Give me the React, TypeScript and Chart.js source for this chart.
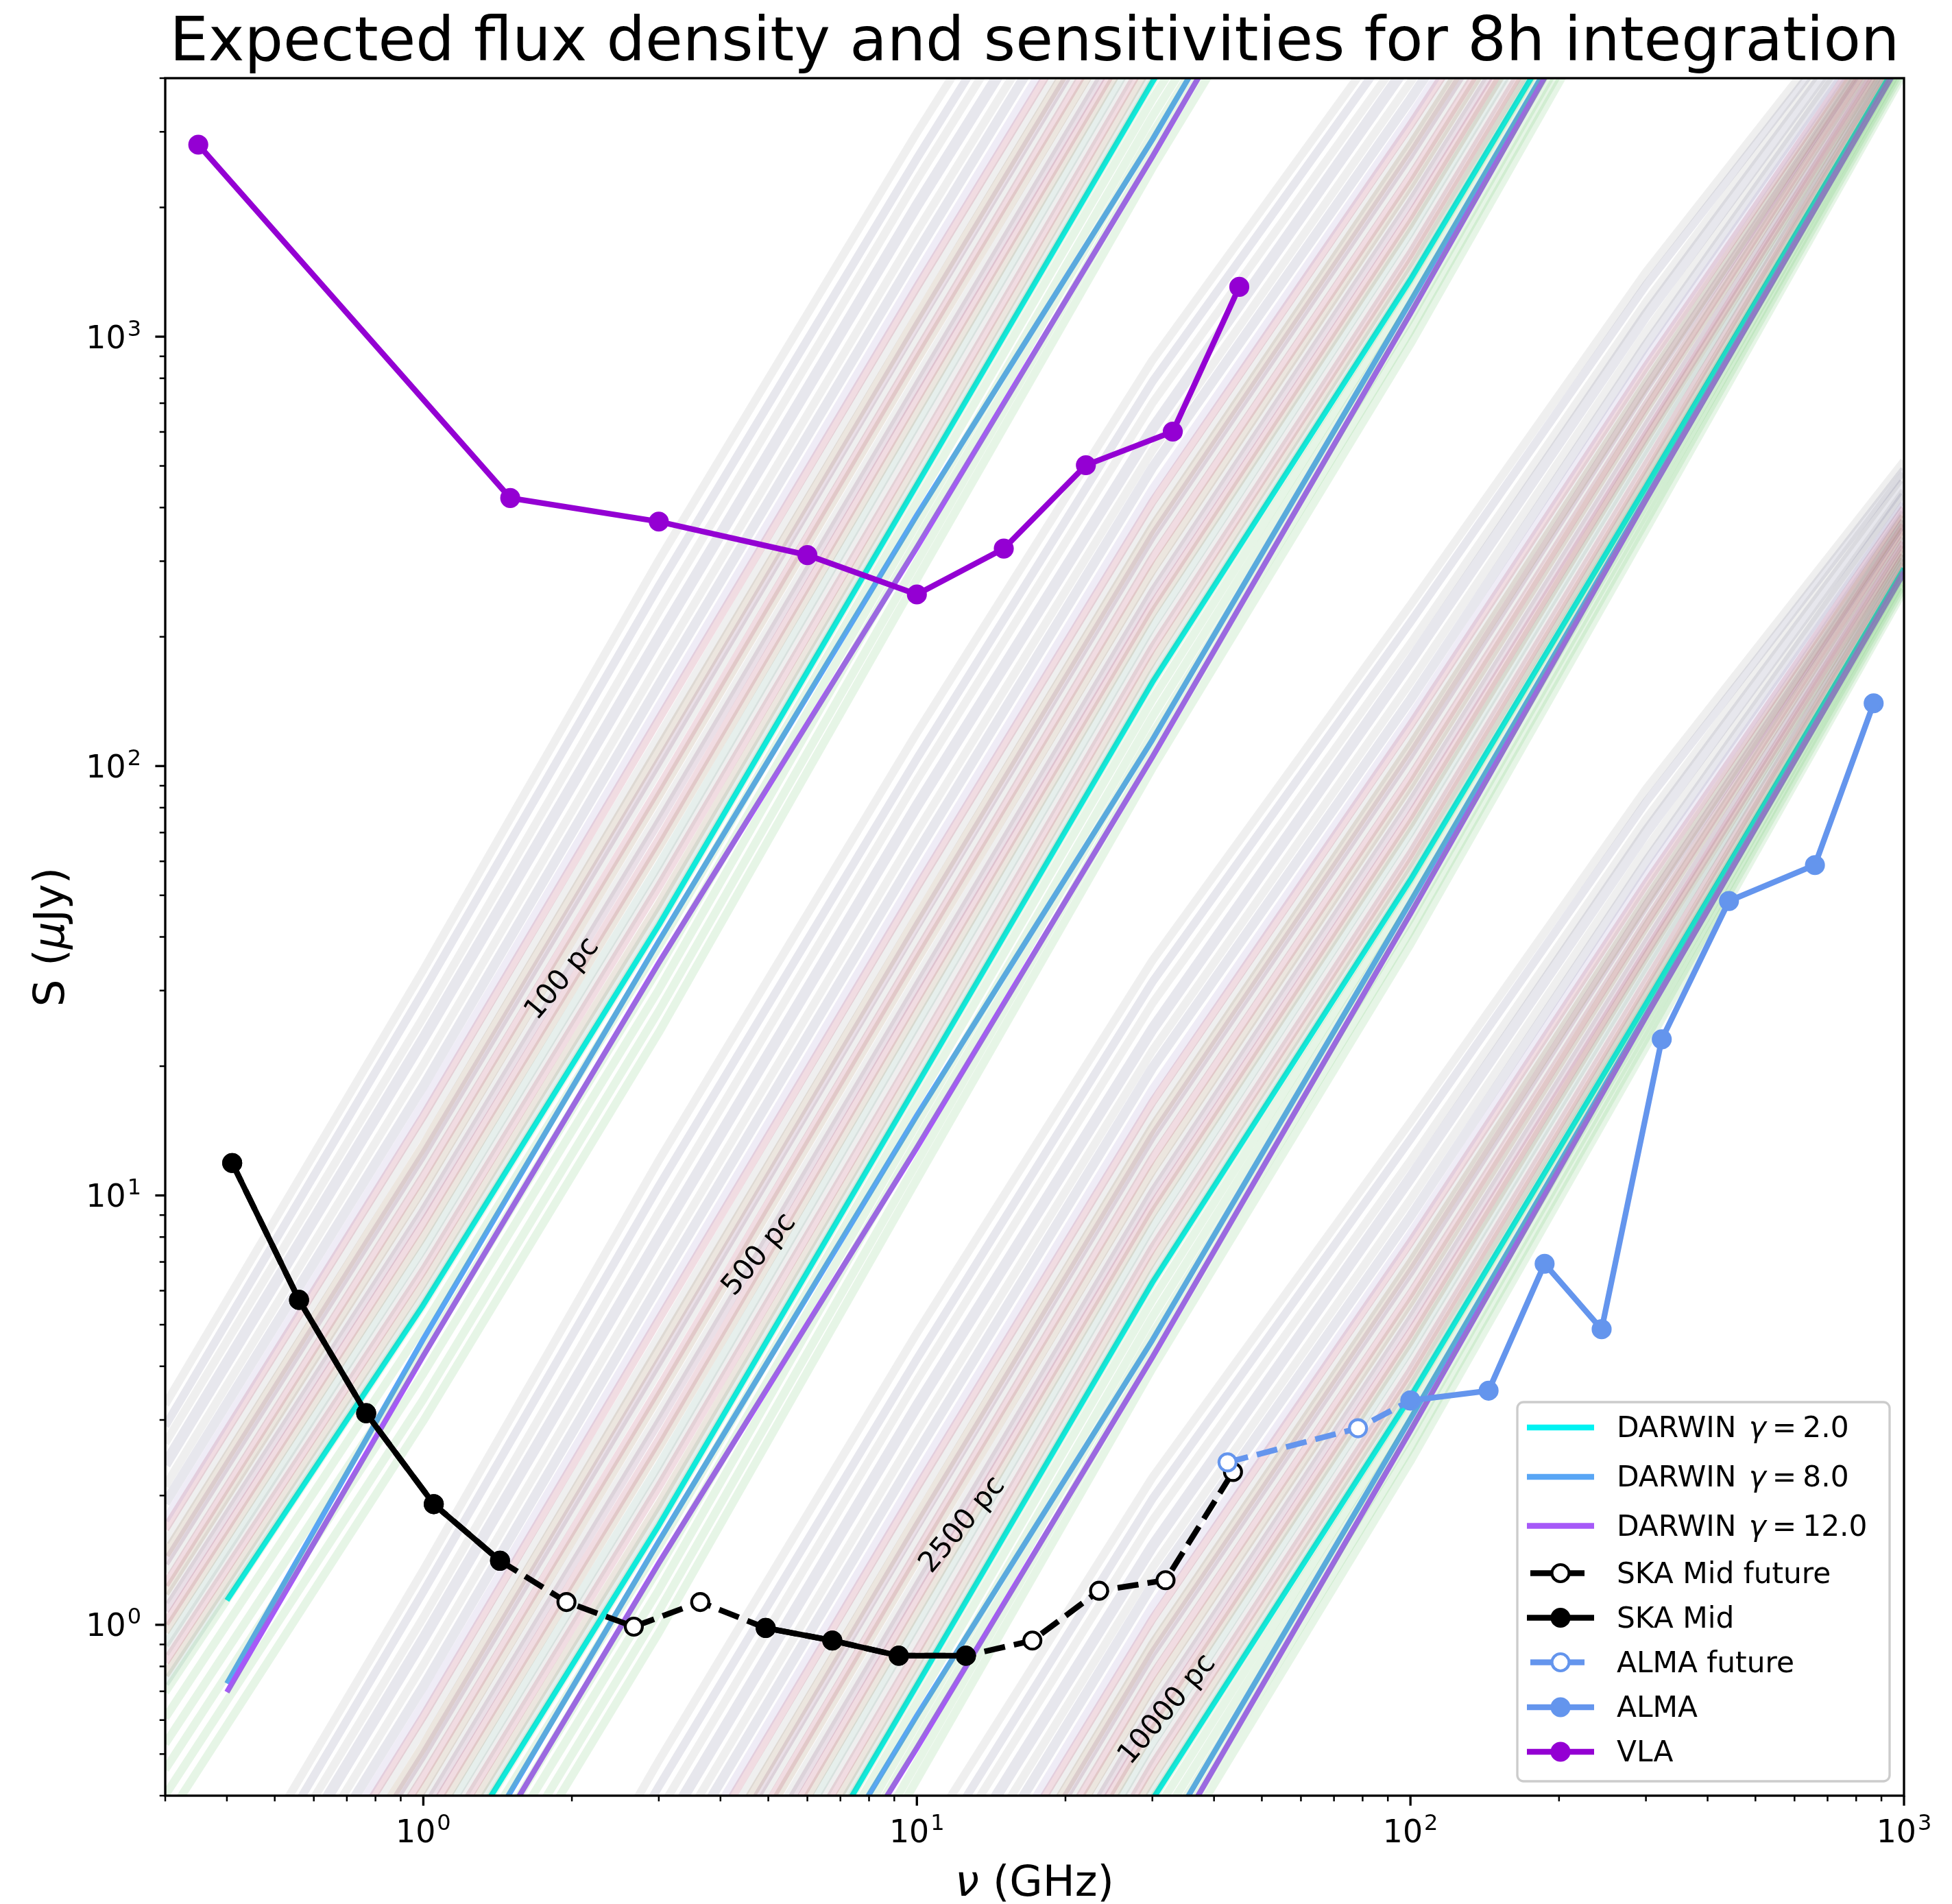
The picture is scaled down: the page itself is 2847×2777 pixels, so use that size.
import React, { useEffect, useRef } from 'react';
import { Chart, registerables } from 'chart.js';

Chart.register(...registerables);

const W = 2847;
const H = 2777;
const FONT = '"DejaVu Sans"';

// ---------- Instrument sensitivities (µJy, 8 h) ----------
const vlaFreq = [0.35, 1.5, 3.0, 6.0, 10, 15, 22, 33, 45];
const vlaFlux = [2800, 421, 371, 310, 251, 321, 502, 601, 1306];

const skaFreq = [0.41, 0.56, 0.766, 1.05, 1.43, 1.95, 2.67, 3.64, 4.94, 6.74, 9.19, 12.57, 17.14, 23.4, 31.9, 43.7];
const skaFutureFlux = [11.9, 5.71, 3.11, 1.91, 1.41, 1.13, 0.99, 1.13, 0.983, 0.919, 0.847, 0.847, 0.919, 1.2, 1.27, 2.27];
const skaMidFlux = [11.9, 5.71, 3.11, 1.91, 1.41, null, null, null, 0.983, 0.919, 0.847, 0.847, null, null, null, null];

const almaFutureFreq = [42.6, 78.3, 100];
const almaFutureFlux = [2.39, 2.87, 3.33];
const almaFreq = [100, 144, 187, 244, 323, 442, 660, 868];
const almaFlux = [3.33, 3.51, 6.93, 4.88, 23.1, 48.5, 58.8, 140];

// ---------- DARWIN expected flux densities (µJy at 100 pc) ----------
const darwinFreq = [0.4, 1, 3, 10, 30, 100, 300, 1000];
const darwinG2At100pc = [1.14, 5.56, 42.6, 452, 3917, 33960, 279300, 2884000];
const darwinG8At100pc = [0.73, 4.63, 39.1, 384, 2877, 30200, 263000, 2850000];
const darwinG12At100pc = [0.697, 4.23, 34.8, 323, 2624, 28310, 260600, 2820000];

const distancesPc = [100, 500, 2500, 10000];
const distanceLabels = ['100 pc', '500 pc', '2500 pc', '10000 pc'];
const labelFreq = [1.914, 4.8, 12.39, 32.2];
const labelFlux = [31.9, 7.27, 1.707, 0.634];

// ---------- faint model ensemble (offsets in dex from the reference spectrum) ----------
const faintFreq = [0.3, 1, 3, 10, 30, 100, 300, 1000];
const faintRefAt100pc = [0.697, 5.56, 42.6, 452, 3917, 33960, 279300, 2884000];
const faintOffsetDex = [
  [0.67, 0.78, 0.85, 0.82, 0.75, 0.64, 0.5, 0.25],
  [0.62, 0.73, 0.79, 0.76, 0.7, 0.6, 0.47, 0.23],
  [0.58, 0.67, 0.73, 0.71, 0.65, 0.55, 0.43, 0.22],
  [0.53, 0.62, 0.67, 0.65, 0.59, 0.51, 0.4, 0.2],
  [0.48, 0.56, 0.61, 0.59, 0.54, 0.46, 0.36, 0.18],
  [0.44, 0.51, 0.56, 0.54, 0.5, 0.42, 0.33, 0.17],
  [0.4, 0.47, 0.51, 0.49, 0.45, 0.38, 0.3, 0.15],
  [0.38, 0.44, 0.48, 0.46, 0.42, 0.36, 0.28, 0.14],
  [0.35, 0.41, 0.44, 0.43, 0.39, 0.33, 0.26, 0.13],
  [0.32, 0.37, 0.41, 0.39, 0.36, 0.31, 0.24, 0.12],
  [0.3, 0.35, 0.38, 0.37, 0.34, 0.29, 0.23, 0.11],
  [0.28, 0.33, 0.36, 0.34, 0.32, 0.27, 0.21, 0.11],
  [0.25, 0.3, 0.32, 0.31, 0.29, 0.24, 0.19, 0.1],
  [0.23, 0.27, 0.3, 0.29, 0.26, 0.22, 0.18, 0.09],
  [0.21, 0.24, 0.26, 0.25, 0.23, 0.2, 0.16, 0.08],
  [0.19, 0.22, 0.24, 0.23, 0.21, 0.18, 0.14, 0.07],
  [0.16, 0.19, 0.2, 0.2, 0.18, 0.15, 0.12, 0.06],
  [0.14, 0.16, 0.18, 0.17, 0.16, 0.13, 0.11, 0.05],
  [0.11, 0.13, 0.14, 0.14, 0.13, 0.11, 0.09, 0.04],
  [0.09, 0.1, 0.11, 0.11, 0.1, 0.08, 0.07, 0.03],
  [0.07, 0.08, 0.09, 0.08, 0.08, 0.06, 0.05, 0.03],
  [0.04, 0.05, 0.05, 0.05, 0.05, 0.04, 0.03, 0.02],
  [0.02, 0.02, 0.03, 0.02, 0.02, 0.02, 0.02, 0.01],
  [0.0, 0.0, 0.0, 0.0, 0.0, 0.0, 0.0, 0.0],
  [-0.06, -0.05, -0.05, -0.04, -0.04, -0.03, -0.02, -0.01],
  [-0.12, -0.11, -0.1, -0.09, -0.08, -0.06, -0.04, -0.02],
  [-0.18, -0.16, -0.15, -0.13, -0.12, -0.09, -0.06, -0.03],
  [-0.24, -0.22, -0.2, -0.18, -0.16, -0.12, -0.08, -0.04],
  [-0.3, -0.27, -0.25, -0.22, -0.2, -0.15, -0.1, -0.05],
];
const faintColorKey = [
  'grey', 'lavgrey', 'grey', 'lavgrey', 'grey', 'lavgrey', 'lavender', 'pink', 'grey', 'tan',
  'mauve', 'grey', 'pink', 'tan', 'grey', 'mauve', 'pink', 'tan', 'teal', 'grey',
  'pink', 'tan', 'teal', 'green', 'green', 'green', 'green', 'green', 'green',
];
const faintWidth = [
  12, 12, 12, 16, 12, 14, 12, 12, 12, 14,
  12, 12, 12, 12, 12, 12, 12, 12, 12, 12,
  12, 12, 12, 12, 12, 12, 12, 12, 12,
];
const faintPalette: Record<string, string> = {
  lavgrey: 'rgba(110,110,150,0.17)',
  grey: 'rgba(130,130,130,0.13)',
  lavender: 'rgba(140,120,190,0.14)',
  pink: 'rgba(180,70,100,0.19)',
  mauve: 'rgba(140,80,120,0.18)',
  tan: 'rgba(150,115,80,0.18)',
  teal: 'rgba(90,150,130,0.15)',
  green: 'rgba(100,190,100,0.16)',
};

// ---------- axes ----------
const xMin = 0.3, xMax = 1000, yMin = 0.4, yMax = 4000;
const xMajorTicks = [1, 10, 100, 1000];
const xMajorExp = ['0', '1', '2', '3'];
const yMajorTicks = [1, 10, 100, 1000];
const yMajorExp = ['0', '1', '2', '3'];

const COL_G2 = '#00f2f2';
const COL_G8 = '#59a6f5';
const COL_G12 = '#a659f8';
const COL_VLA = '#9400d3';
const COL_ALMA = '#6495ed';

const LW = 8.33;
const MS = 12.5;
const MEW = 4.17;
const DASH = [30.8, 13.3];

function minorTicks(min: number, max: number): number[] {
  const out: number[] = [];
  for (let e = -1; e <= 3; e++) {
    for (let m = 2; m <= 9; m++) {
      const v = m * Math.pow(10, e);
      if (v >= min * 0.999 && v <= max * 1.001) out.push(v);
    }
  }
  return out;
}

function drawPow(ctx: CanvasRenderingContext2D, exp: string, x: number, y: number, align: 'center' | 'right') {
  ctx.font = `45.8px ${FONT}`;
  const wb = ctx.measureText('10').width;
  ctx.font = `32px ${FONT}`;
  const we = ctx.measureText(exp).width;
  const total = wb + 2 + we;
  const sx = align === 'center' ? x - total / 2 : x - total;
  ctx.textAlign = 'left';
  ctx.textBaseline = 'alphabetic';
  ctx.font = `45.8px ${FONT}`;
  ctx.fillText('10', sx, y);
  ctx.font = `32px ${FONT}`;
  ctx.fillText(exp, sx + wb + 2, y - 18);
}

const decorations = {
  id: 'decorations',
  afterDatasetsDraw(chart: any) {
    const ctx: CanvasRenderingContext2D = chart.ctx;
    const { left, right, top, bottom } = chart.chartArea;
    const xs = chart.scales.x;
    const ys = chart.scales.y;
    ctx.save();
    ctx.fillStyle = '#000';

    // distance labels
    ctx.font = `41.7px ${FONT}`;
    ctx.textAlign = 'center';
    ctx.textBaseline = 'middle';
    distanceLabels.forEach((t, i) => {
      const px = xs.getPixelForValue(labelFreq[i]);
      const py = ys.getPixelForValue(labelFlux[i]);
      ctx.save();
      ctx.translate(px, py);
      ctx.rotate((-50 * Math.PI) / 180);
      ctx.fillText(t, 0, 0);
      ctx.restore();
    });

    // legend
    const lx = 2213, ly = 2045, lw = 543, lh = 553;
    ctx.beginPath();
    (ctx as any).roundRect(lx, ly, lw, lh, 9);
    ctx.fillStyle = 'rgba(255,255,255,0.8)';
    ctx.fill();
    ctx.strokeStyle = '#cccccc';
    ctx.lineWidth = 3.33;
    ctx.stroke();
    const rows = [2082, 2154, 2225.5, 2294.5, 2359.5, 2424.5, 2490, 2555];
    const hx0 = 2227, hx1 = 2325, mx = 2276, tx = 2358;
    const entries = [
      { c: COL_G2, g: '2.0', kind: 'line' },
      { c: COL_G8, g: '8.0', kind: 'line' },
      { c: COL_G12, g: '12.0', kind: 'line' },
      { c: '#000', t: 'SKA Mid future', kind: 'open' },
      { c: '#000', t: 'SKA Mid', kind: 'filled' },
      { c: COL_ALMA, t: 'ALMA future', kind: 'open' },
      { c: COL_ALMA, t: 'ALMA', kind: 'filled' },
      { c: COL_VLA, t: 'VLA', kind: 'filled' },
    ];
    const LF = 42.3;
    entries.forEach((e: any, i) => {
      const y = rows[i];
      ctx.lineCap = 'butt';
      ctx.strokeStyle = e.c;
      ctx.lineWidth = LW;
      ctx.beginPath();
      if (e.kind === 'open') {
        ctx.moveTo(2232, y);
        ctx.lineTo(2311, y);
      } else {
        ctx.moveTo(hx0, y);
        ctx.lineTo(hx1, y);
      }
      ctx.stroke();
      if (e.kind !== 'line') {
        ctx.beginPath();
        ctx.arc(mx, y, MS, 0, Math.PI * 2);
        ctx.fillStyle = e.kind === 'open' ? '#fff' : e.c;
        ctx.fill();
        ctx.lineWidth = MEW;
        ctx.strokeStyle = e.c;
        ctx.stroke();
      }
      ctx.fillStyle = '#000';
      ctx.textAlign = 'left';
      ctx.textBaseline = 'alphabetic';
      const by = y + 14;
      if (e.kind === 'line') {
        ctx.font = `${LF}px ${FONT}`;
        let x = tx;
        ctx.fillText('DARWIN', x, by);
        x += ctx.measureText('DARWIN ').width + 5;
        ctx.font = `italic ${LF}px ${FONT}`;
        ctx.fillText('γ', x, by);
        x += ctx.measureText('γ').width + 9;
        ctx.font = `${LF}px ${FONT}`;
        ctx.fillText('=', x, by);
        x += ctx.measureText('=').width + 9;
        ctx.fillText(e.g, x, by);
      } else {
        ctx.font = `${LF}px ${FONT}`;
        ctx.fillText(e.t, tx, by);
      }
    });

    // frame
    ctx.strokeStyle = '#000';
    ctx.lineWidth = 3.33;
    ctx.lineCap = 'square';
    ctx.strokeRect(left, top, right - left, bottom - top);
    ctx.lineCap = 'butt';

    // x ticks
    ctx.lineWidth = 3.33;
    xMajorTicks.forEach((v, i) => {
      const px = xs.getPixelForValue(v);
      ctx.beginPath();
      ctx.moveTo(px, bottom);
      ctx.lineTo(px, bottom + 14.6);
      ctx.stroke();
      drawPow(ctx, xMajorExp[i], px, 2687, 'center');
    });
    ctx.lineWidth = 2.5;
    minorTicks(xMin, xMax).forEach((v) => {
      const px = xs.getPixelForValue(v);
      ctx.beginPath();
      ctx.moveTo(px, bottom);
      ctx.lineTo(px, bottom + 8.3);
      ctx.stroke();
    });
    // y ticks
    ctx.lineWidth = 3.33;
    yMajorTicks.forEach((v, i) => {
      const py = ys.getPixelForValue(v);
      ctx.beginPath();
      ctx.moveTo(left, py);
      ctx.lineTo(left - 14.6, py);
      ctx.stroke();
      drawPow(ctx, yMajorExp[i], 206, py + 16.5, 'right');
    });
    ctx.lineWidth = 2.5;
    minorTicks(yMin, yMax).forEach((v) => {
      const py = ys.getPixelForValue(v);
      ctx.beginPath();
      ctx.moveTo(left, py);
      ctx.lineTo(left - 8.3, py);
      ctx.stroke();
    });

    // axis labels
    const cx = (left + right) / 2;
    const cy = (top + bottom) / 2;
    ctx.textBaseline = 'alphabetic';
    ctx.textAlign = 'left';
    {
      ctx.font = `italic 62.5px ${FONT}`;
      const w1 = ctx.measureText('ν').width;
      ctx.font = `62.5px ${FONT}`;
      const w2 = ctx.measureText(' (GHz)').width;
      const sx = cx - (w1 + w2) / 2;
      ctx.font = `italic 62.5px ${FONT}`;
      ctx.fillText('ν', sx, 2765);
      ctx.font = `62.5px ${FONT}`;
      ctx.fillText(' (GHz)', sx + w1, 2765);
    }
    {
      ctx.save();
      ctx.translate(93, cy);
      ctx.rotate(-Math.PI / 2);
      ctx.font = `62.5px ${FONT}`;
      const a = 'S (';
      const c = 'Jy)';
      const wa = ctx.measureText(a).width;
      const wc = ctx.measureText(c).width;
      ctx.font = `italic 62.5px ${FONT}`;
      const wb = ctx.measureText('μ').width;
      const sx = -(wa + wb + wc) / 2;
      ctx.font = `62.5px ${FONT}`;
      ctx.fillText(a, sx, 0);
      ctx.font = `italic 62.5px ${FONT}`;
      ctx.fillText('μ', sx + wa, 0);
      ctx.font = `62.5px ${FONT}`;
      ctx.fillText(c, sx + wa + wb, 0);
      ctx.restore();
    }
    // title
    ctx.font = `89px ${FONT}`;
    ctx.textAlign = 'center';
    ctx.fillText('Expected flux density and sensitivities for 8h integration', cx, 88);
    ctx.restore();
  },
};

export default function App() {
  const ref = useRef<HTMLCanvasElement>(null);
  useEffect(() => {
    const canvas = ref.current;
    if (!canvas) return;
    const datasets: any[] = [];
    const base = { fill: false, tension: 0, spanGaps: false, clip: 0, pointHoverRadius: 0 };

    datasets.push({
      ...base, label: 'VLA', order: 0,
      data: vlaFreq.map((x, i) => ({ x, y: vlaFlux[i] })),
      borderColor: COL_VLA, borderWidth: LW,
      pointRadius: MS, pointBorderWidth: MEW, pointBackgroundColor: COL_VLA, pointBorderColor: COL_VLA,
    });
    datasets.push({
      ...base, label: 'ALMA', order: 1,
      data: almaFreq.map((x, i) => ({ x, y: almaFlux[i] })),
      borderColor: COL_ALMA, borderWidth: LW,
      pointRadius: MS, pointBorderWidth: MEW, pointBackgroundColor: COL_ALMA, pointBorderColor: COL_ALMA,
    });
    datasets.push({
      ...base, label: 'ALMA future', order: 2,
      data: almaFutureFreq.map((x, i) => ({ x, y: almaFutureFlux[i] })),
      borderColor: COL_ALMA, borderWidth: LW, borderDash: DASH,
      pointRadius: MS, pointBorderWidth: MEW, pointBackgroundColor: '#ffffff', pointBorderColor: COL_ALMA,
    });
    datasets.push({
      ...base, label: 'SKA Mid', order: 3,
      data: skaFreq.map((x, i) => ({ x, y: skaMidFlux[i] })),
      borderColor: '#000', borderWidth: LW,
      pointRadius: MS, pointBorderWidth: MEW, pointBackgroundColor: '#000', pointBorderColor: '#000',
    });
    datasets.push({
      ...base, label: 'SKA Mid future', order: 4,
      data: skaFreq.map((x, i) => ({ x, y: skaFutureFlux[i] })),
      borderColor: '#000', borderWidth: LW, borderDash: DASH,
      pointRadius: MS, pointBorderWidth: MEW, pointBackgroundColor: '#ffffff', pointBorderColor: '#000',
    });

    distancesPc.forEach((d) => {
      const scale = Math.pow(100 / d, 2);
      faintOffsetDex.forEach((row, j) => {
        datasets.push({
          ...base, label: 'faint', order: 5,
          data: faintFreq.map((x, i) => ({ x, y: faintRefAt100pc[i] * Math.pow(10, row[i]) * scale })),
          borderColor: faintPalette[faintColorKey[j]], borderWidth: faintWidth[j], pointRadius: 0,
          borderJoinStyle: 'round',
        });
      });
      const spectra = [darwinG2At100pc, darwinG8At100pc, darwinG12At100pc];
      const cols = [COL_G2, COL_G8, COL_G12];
      [2, 1, 0].forEach((k) => {
        datasets.push({
          ...base, label: 'darwin', order: 6,
          data: darwinFreq.map((x, i) => ({ x, y: spectra[k][i] * scale })),
          borderColor: cols[k], borderWidth: 8, pointRadius: 0, borderJoinStyle: 'round',
        });
      });
    });

    const chart = new Chart(canvas, {
      type: 'line',
      data: { datasets },
      options: {
        animation: false,
        responsive: false,
        devicePixelRatio: 1,
        events: [],
        layout: { padding: { left: 241, right: W - 2777, top: 114, bottom: H - 2619 } },
        scales: {
          x: { type: 'logarithmic', min: xMin, max: xMax, display: false },
          y: { type: 'logarithmic', min: yMin, max: yMax, display: false },
        },
        plugins: { legend: { display: false }, title: { display: false }, tooltip: { enabled: false } },
      } as any,
      plugins: [decorations as any],
    });
    return () => chart.destroy();
  }, []);
  return (
    <div style={{ position: 'absolute', left: 0, top: 0, width: W, height: H, background: '#fff' }}>
      <canvas ref={ref} width={W} height={H} style={{ width: W, height: H, display: 'block' }} />
    </div>
  );
}
